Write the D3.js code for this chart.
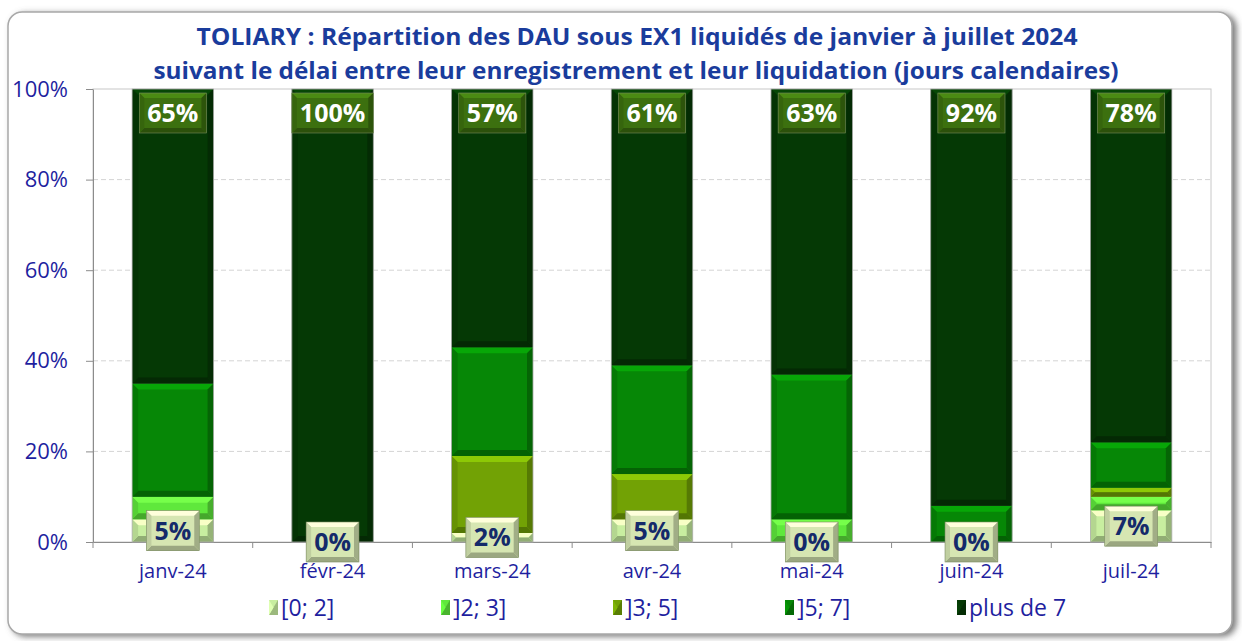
<!DOCTYPE html>
<html>
<head>
<meta charset="utf-8">
<script src="https://cdn.jsdelivr.net/npm/d3@7"></script>
<style>
  body { margin: 0; background: #fff; }
  text { font-family: "Open Sans", "DejaVu Sans", sans-serif; }
</style>
</head>
<body>
<svg id="chart" width="1242" height="641"></svg>
<script>
const months = ["janv-24", "févr-24", "mars-24", "avr-24", "mai-24", "juin-24", "juil-24"];
const seriesNames = ["[0; 2]", "]2; 3]", "]3; 5]", "]5; 7]", "plus de 7"];
const d0_2 = [5, 0, 2, 5, 0, 0, 7];
const d2_3 = [5, 0, 0, 0, 5, 0, 3];
const d3_5 = [0, 0, 17, 10, 0, 0, 2];
const d5_7 = [25, 0, 24, 24, 32, 8, 10];
const dPlus7 = [65, 100, 57, 61, 63, 92, 78];
const yTicks = [0, 0.2, 0.4, 0.6, 0.8, 1];
const colors = ["#c8eea0", "#5fe83c", "#72a205", "#068706", "#053905"];

const svg = d3.select("#chart");
const plotL = 93, plotR = 1211, plotT = 89, plotB = 542;
const navy = "#1f1f9f";

// Frame with shadow
const defs = svg.append("defs");
const f = defs.append("filter").attr("id", "shadow").attr("x", "-5%").attr("y", "-5%").attr("width", "110%").attr("height", "110%");
f.append("feDropShadow").attr("dx", 4).attr("dy", 2).attr("stdDeviation", 3).attr("flood-color", "#666").attr("flood-opacity", 0.85);
svg.append("rect")
  .attr("x", 8).attr("y", 12).attr("width", 1224).attr("height", 622)
  .attr("rx", 14).attr("fill", "#fff").attr("stroke", "#a8a8a8").attr("stroke-width", 1.5)
  .attr("filter", "url(#shadow)");

// Title
const title = svg.append("g").attr("fill", "#1a3c9c").attr("font-weight", "bold")
  .attr("font-size", 23).attr("text-anchor", "middle");
title.append("text").attr("x", 637).attr("y", 45)
  .attr("textLength", 881).attr("lengthAdjust", "spacingAndGlyphs")
  .text("TOLIARY : Répartition des DAU sous EX1 liquidés de janvier à juillet 2024");
title.append("text").attr("x", 636).attr("y", 79)
  .attr("textLength", 965).attr("lengthAdjust", "spacingAndGlyphs")
  .text("suivant le délai entre leur enregistrement et leur liquidation (jours calendaires)");

// Scales
const x = d3.scaleBand().domain(months).range([plotL, plotR]).paddingInner(0.49).paddingOuter(0.245);
const y = d3.scaleLinear().domain([0, 1]).range([plotB, plotT]);

// Plot border + grid
svg.append("rect").attr("x", plotL).attr("y", plotT).attr("width", plotR - plotL).attr("height", plotB - plotT)
  .attr("fill", "none").attr("stroke", "#c8c8c8");
svg.append("g").selectAll("line").data(yTicks.filter(d => d > 0 && d < 1)).join("line")
  .attr("x1", plotL).attr("x2", plotR).attr("y1", d => y(d)).attr("y2", d => y(d))
  .attr("stroke", "#d4d4d4").attr("stroke-dasharray", "5,3");

// Y axis
const yAxis = svg.append("g").attr("transform", `translate(${plotL},0)`)
  .call(d3.axisLeft(y).tickValues(yTicks).tickFormat(d3.format(".0%")).tickSize(7).tickPadding(18).tickSizeOuter(0));
yAxis.select(".domain").attr("stroke", "#8c8c8c");
yAxis.selectAll(".tick line").attr("stroke", "#8c8c8c");
yAxis.selectAll("text").attr("fill", navy).attr("font-size", 22);

// X axis
const xAxis = svg.append("g").attr("transform", `translate(0,${plotB})`)
  .call(d3.axisBottom(x).tickSize(0).tickPadding(22));
xAxis.select(".domain").attr("stroke", "#8c8c8c");
xAxis.selectAll("text").attr("fill", navy).attr("font-size", 20);
const bounds = d3.range(months.length + 1).map(i => plotL + i * x.step());
svg.append("g").selectAll("line").data(bounds).join("line")
  .attr("x1", d => d).attr("x2", d => d).attr("y1", plotB).attr("y2", plotB + 6)
  .attr("stroke", "#8c8c8c");

// Bevelled rectangle
function bevel(g, bx, by, bw, bh, color, b) {
  if (bh <= 0) return;
  b = Math.min(b, bh / 2, bw / 2);
  const c = d3.color(color);
  g.append("rect").attr("x", bx).attr("y", by).attr("width", bw).attr("height", bh).attr("fill", c);
  const faces = [
    [[bx, by], [bx + bw, by], [bx + bw - b, by + b], [bx + b, by + b], c.brighter(0.6)],
    [[bx, by + bh], [bx + bw, by + bh], [bx + bw - b, by + bh - b], [bx + b, by + bh - b], c.darker(0.9)],
    [[bx, by], [bx + b, by + b], [bx + b, by + bh - b], [bx, by + bh], c.darker(0.3)],
    [[bx + bw, by], [bx + bw - b, by + b], [bx + bw - b, by + bh - b], [bx + bw, by + bh], c.darker(0.8)]
  ];
  faces.forEach(fc => {
    g.append("polygon").attr("points", fc.slice(0, 4).map(p => p.join(",")).join(" ")).attr("fill", fc[4]);
  });
}

// Stacked bars
const table = months.map((m, i) => ({
  month: m, "[0; 2]": d0_2[i], "]2; 3]": d2_3[i], "]3; 5]": d3_5[i], "]5; 7]": d5_7[i], "plus de 7": dPlus7[i]
}));
const stack = d3.stack().keys(seriesNames).value((d, k) => d[k] / 100)(table);
const bars = svg.append("g");
stack.forEach((layer, si) => {
  layer.forEach(seg => {
    const bx = x(seg.data.month);
    const y0 = y(seg[0]), y1 = y(seg[1]);
    bevel(bars, bx, y1, x.bandwidth(), y0 - y1, colors[si], 6);
  });
});
svg.append("g").selectAll("rect").data(months).join("rect")
  .attr("x", d => x(d)).attr("y", plotT).attr("width", x.bandwidth()).attr("height", plotB - plotT)
  .attr("fill", "none").attr("stroke", "#b0b0b0").attr("stroke-width", 0.8);

// Labels
function labelBox(cx, cy, txt, fill, textColor) {
  const g = svg.append("g");
  const t = g.append("text").attr("x", cx).attr("y", cy).attr("dy", "0.36em")
    .attr("text-anchor", "middle").attr("font-weight", "bold").attr("font-size", 25)
    .attr("fill", textColor).text(txt);
  const w = t.node().getComputedTextLength() + 16;
  const hgt = 40;
  const bg = g.insert("g", "text");
  bevel(bg, cx - w / 2, cy - hgt / 2, w, hgt, fill, 5);
  bg.append("rect").attr("x", cx - w / 2).attr("y", cy - hgt / 2).attr("width", w).attr("height", hgt)
    .attr("fill", "none").attr("stroke", "#7a8a60").attr("stroke-width", 0.6);
}
const first = stack[0];
months.forEach((m, i) => {
  const cx = x(m) + x.bandwidth() / 2;
  labelBox(cx, y(1) + 24, dPlus7[i] + "%", "#3c700f", "#ffffff");
  labelBox(cx, (y(first[i][0]) + y(first[i][1])) / 2, d0_2[i] + "%", "#d6e6b2", "#142a6a");
});

// Legend
const legend = svg.append("g").selectAll("g").data(seriesNames).join("g")
  .attr("transform", (d, i) => `translate(${269 + i * 172},600)`);
legend.each(function (d, i) {
  const g = d3.select(this);
  g.append("rect").attr("width", 9).attr("height", 15).attr("fill", colors[i]);
  g.append("polygon").attr("points", "0,15 9,15 9,0").attr("fill", d3.color(colors[i]).darker(0.7));
  g.append("polygon").attr("points", "0,0 4.5,7.5 0,15").attr("fill", d3.color(colors[i]).brighter(0.3));
});
legend.append("text").attr("x", 12).attr("y", 7.5).attr("dy", "0.35em")
  .attr("fill", navy).attr("font-size", 23).text(d => d);
</script>
</body>
</html>
